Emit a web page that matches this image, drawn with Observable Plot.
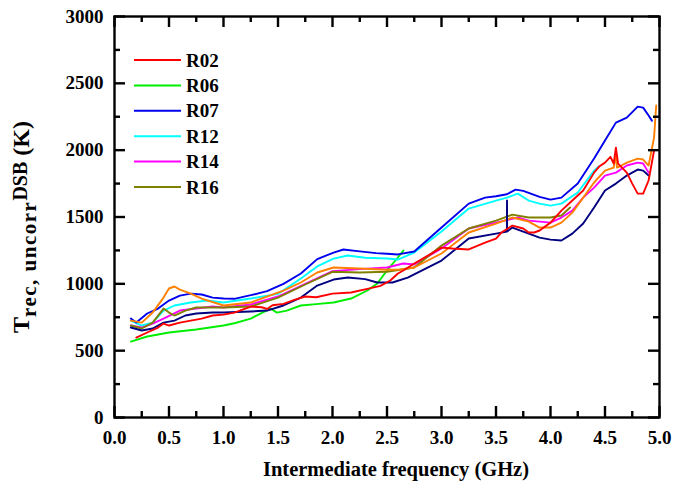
<!DOCTYPE html>
<html>
<head>
<meta charset="utf-8">
<script src="https://cdn.jsdelivr.net/npm/d3@7"></script>
<script src="https://cdn.jsdelivr.net/npm/@observablehq/plot@0.6"></script>
<style>
  html, body { margin: 0; padding: 0; background: #fff; }
  svg { display: block; }
</style>
</head>
<body>
<div id="chart"></div>
<script>
// ---- data (frequency GHz, T_rec K) ----
const R02 = [[0.2,598],[0.3,636],[0.4,673],[0.45,703],[0.5,688],[0.6,710],[0.7,725],[0.8,740],[0.9,763],[1.0,770],[1.1,785],[1.25,830],[1.35,825],[1.4,812],[1.45,840],[1.55,850],[1.65,880],[1.75,905],[1.85,900],[2.0,927],[2.17,935],[2.32,962],[2.44,985],[2.53,1025],[2.6,1077],[2.65,1100],[2.75,1152],[3.0,1271],[3.1,1264],[3.25,1257],[3.4,1309],[3.5,1339],[3.55,1384],[3.65,1436],[3.75,1414],[3.8,1384],[3.85,1384],[3.9,1399],[4.0,1458],[4.1,1548],[4.2,1623],[4.3,1698],[4.4,1832],[4.45,1880],[4.5,1907],[4.55,1950],[4.58,1900],[4.6,2019],[4.62,1900],[4.7,1832],[4.75,1750],[4.8,1675],[4.85,1675],[4.9,1773],[4.95,1997]];
const R06 = [[0.15,568],[0.3,606],[0.5,636],[0.75,658],[1.0,688],[1.1,705],[1.25,740],[1.43,815],[1.49,785],[1.58,800],[1.71,838],[1.85,848],[2.01,860],[2.17,890],[2.32,950],[2.41,1002],[2.5,1100],[2.6,1197],[2.65,1249]];
const R07 = [[0.15,740],[0.2,710],[0.3,778],[0.4,815],[0.5,875],[0.6,912],[0.7,927],[0.8,920],[0.9,897],[1.0,890],[1.1,888],[1.25,915],[1.4,945],[1.55,1000],[1.71,1077],[1.86,1185],[2.01,1234],[2.1,1257],[2.25,1243],[2.4,1230],[2.5,1225],[2.6,1220],[2.75,1242],[3.0,1421],[3.25,1600],[3.4,1645],[3.5,1655],[3.6,1670],[3.68,1705],[3.75,1695],[3.9,1650],[4.0,1630],[4.1,1645],[4.25,1750],[4.4,1937],[4.5,2072],[4.6,2206],[4.7,2244],[4.8,2326],[4.85,2318],[4.9,2259],[4.93,2221]];
const R12 = [[0.15,725],[0.25,688],[0.35,710],[0.45,800],[0.55,838],[0.7,860],[0.85,875],[1.0,860],[1.25,890],[1.5,925],[1.71,1040],[1.86,1130],[2.01,1189],[2.14,1212],[2.3,1195],[2.5,1189],[2.6,1182],[2.75,1234],[3.0,1391],[3.25,1563],[3.5,1623],[3.6,1645],[3.7,1675],[3.8,1623],[3.9,1600],[4.0,1585],[4.1,1600],[4.25,1683],[4.4,1847],[4.44,1877]];
const R14 = [[0.15,688],[0.25,673],[0.35,703],[0.45,740],[0.6,800],[0.75,815],[0.9,830],[1.0,823],[1.25,845],[1.5,905],[1.75,1000],[2.0,1095],[2.25,1110],[2.5,1122],[2.65,1152],[2.75,1145],[3.0,1264],[3.25,1414],[3.5,1458],[3.7,1496],[3.8,1473],[4.0,1458],[4.1,1496],[4.2,1548],[4.3,1645],[4.4,1720],[4.5,1810],[4.6,1832],[4.7,1885],[4.8,1907],[4.85,1900],[4.9,1832]];
const R16 = [[0.15,688],[0.25,666],[0.35,710],[0.45,815],[0.5,785],[0.55,763],[0.65,800],[0.75,823],[0.9,823],[1.0,823],[1.25,830],[1.5,897],[1.75,995],[2.0,1090],[2.25,1085],[2.5,1090],[2.75,1122],[3.0,1286],[3.25,1414],[3.5,1473],[3.65,1518],[3.8,1496],[4.0,1496],[4.1,1511],[4.18,1571]];
const EXTRA_ORANGE = [[0.15,725],[0.25,710],[0.35,785],[0.45,897],[0.5,965],[0.55,980],[0.6,957],[0.7,927],[0.8,890],[1.0,838],[1.25,860],[1.55,950],[1.71,1010],[1.86,1085],[2.01,1122],[2.25,1115],[2.5,1105],[2.62,1107],[2.75,1122],[3.0,1227],[3.25,1384],[3.5,1451],[3.65,1496],[3.8,1466],[3.9,1421],[4.0,1421],[4.1,1458],[4.2,1533],[4.3,1645],[4.4,1758],[4.5,1847],[4.58,1870],[4.6,1975],[4.61,1870],[4.65,1885],[4.7,1907],[4.8,1937],[4.85,1930],[4.9,1885],[4.95,2094],[4.97,2334]];
const EXTRA_NAVY = [[0.15,673],[0.25,651],[0.35,666],[0.45,710],[0.55,725],[0.65,763],[0.75,778],[0.9,785],[1.0,785],[1.25,793],[1.4,800],[1.55,838],[1.71,897],[1.86,987],[2.01,1032],[2.14,1047],[2.3,1035],[2.41,1010],[2.55,1010],[2.69,1047],[3.0,1174],[3.25,1339],[3.5,1376],[3.6,1391],[3.601,1623],[3.602,1391],[3.65,1421],[3.8,1376],[3.9,1346],[4.0,1331],[4.1,1324],[4.2,1376],[4.3,1451],[4.4,1571],[4.5,1698],[4.6,1750],[4.7,1810],[4.8,1855],[4.85,1847],[4.9,1810]];

const legendNames = ["R02", "R06", "R07", "R12", "R14", "R16"];
const legendColors = ["#ff0000", "#00ee00", "#0000ee", "#00ffff", "#ff00ff", "#808000"];
const xTickLabels = [0, 0.5, 1, 1.5, 2, 2.5, 3, 3.5, 4, 4.5, 5];
const xMinorTicks = [0.25, 0.75, 1.25, 1.75, 2.25, 2.75, 3.25, 3.75, 4.25, 4.75];
const yTickLabels = [0, 500, 1000, 1500, 2000, 2500, 3000];
const yMinorTicks = [250, 750, 1250, 1750, 2250, 2750];

const series = [
  {name: "R06", data: R06, color: legendColors[1]},
  {name: "R12", data: R12, color: legendColors[3]},
  {name: "R07", data: R07, color: legendColors[2]},
  {name: "R14", data: R14, color: legendColors[4]},
  {name: "R16", data: R16, color: legendColors[5]},
  {name: "", data: EXTRA_ORANGE, color: "#ff8000"},
  {name: "", data: EXTRA_NAVY, color: "#000080"},
  {name: "R02", data: R02, color: legendColors[0]}
];

const W = 689, H = 489;
const mL = 114, mR = 30, mT = 16, mB = 72;
const plotW = W - mL - mR, plotH = H - mT - mB;
const font = "Liberation Serif, Times New Roman, serif";
const MAJ = 11, MIN = 6;
const XMAX = 5, YMAX = 3000;
// tick lengths expressed through the scales (pixels -> data units)
const yLen = px => YMAX * px / plotH;
const xLen = px => XMAX * px / plotW;
const tickStyle = {stroke: "#000", strokeWidth: 2.4, strokeOpacity: 1};

const marks = [];
for (const s of series) {
  marks.push(Plot.line(s.data, {x: d => d[0], y: d => d[1], stroke: s.color, strokeWidth: 1.9}));
}
marks.push(
  // inward ticks on all four sides
  Plot.ruleX(xTickLabels, {x: d => d, y1: 0, y2: yLen(MAJ), ...tickStyle}),
  Plot.ruleX(xMinorTicks, {x: d => d, y1: 0, y2: yLen(MIN), ...tickStyle}),
  Plot.ruleX(xTickLabels, {x: d => d, y1: YMAX - yLen(MAJ), y2: YMAX, ...tickStyle}),
  Plot.ruleX(xMinorTicks, {x: d => d, y1: YMAX - yLen(MIN), y2: YMAX, ...tickStyle}),
  Plot.ruleY(yTickLabels, {y: d => d, x1: 0, x2: xLen(MAJ), ...tickStyle}),
  Plot.ruleY(yMinorTicks, {y: d => d, x1: 0, x2: xLen(MIN), ...tickStyle}),
  Plot.ruleY(yTickLabels, {y: d => d, x1: XMAX - xLen(MAJ), x2: XMAX, ...tickStyle}),
  Plot.ruleY(yMinorTicks, {y: d => d, x1: XMAX - xLen(MIN), x2: XMAX, ...tickStyle}),
  Plot.frame({stroke: "black", strokeWidth: 2.4}),
  Plot.axisX(xTickLabels, {tickSize: 0, tickPadding: 13, tickFormat: d3.format(".1f"), label: null, fontSize: 19, fontWeight: "bold"}),
  Plot.axisY(yTickLabels, {tickSize: 0, tickPadding: 11, tickFormat: d => String(d), label: null, fontSize: 19, fontWeight: "bold"})
);

const chart = Plot.plot({
  width: W, height: H,
  marginLeft: mL, marginRight: mR, marginTop: mT, marginBottom: mB,
  style: {fontFamily: font, fontSize: "19px", fontWeight: "bold", color: "black", background: "white"},
  x: {domain: [0, XMAX]},
  y: {domain: [0, YMAX]},
  marks
});
document.getElementById("chart").appendChild(chart);

const svg = d3.select(chart);

// ---- legend ----
const lg = svg.append("g").attr("font-family", font).attr("font-weight", "bold").attr("font-size", 19).attr("text-anchor", "start");
legendNames.forEach((n, i) => {
  const y = 60 + 25.4 * i;
  lg.append("line").attr("x1", 134).attr("x2", 181).attr("y1", y).attr("y2", y)
    .attr("stroke", legendColors[i]).attr("stroke-width", 2);
  lg.append("text").attr("x", 186).attr("y", y + 6.5).attr("fill", "black").text(n);
});

// ---- axis titles ----
svg.append("text")
  .attr("x", 396).attr("y", 476)
  .attr("text-anchor", "middle")
  .attr("font-family", font).attr("font-weight", "bold").attr("font-size", 20.5)
  .attr("fill", "black")
  .text("Intermediate frequency (GHz)");

const yt = svg.append("text")
  .attr("transform", "translate(29,227) rotate(-90)")
  .attr("text-anchor", "middle")
  .attr("font-family", font).attr("font-weight", "bold").attr("font-size", 24)
  .attr("fill", "black");
yt.append("tspan").text("T");
yt.append("tspan").attr("font-size", 21).attr("letter-spacing", 1.5).attr("dy", 7).text("rec, uncorr");
yt.append("tspan").attr("font-size", 20).attr("letter-spacing", 0).attr("dy", -9).text("DSB");
yt.append("tspan").attr("dy", 2).text(" (K)");
</script>
</body>
</html>
